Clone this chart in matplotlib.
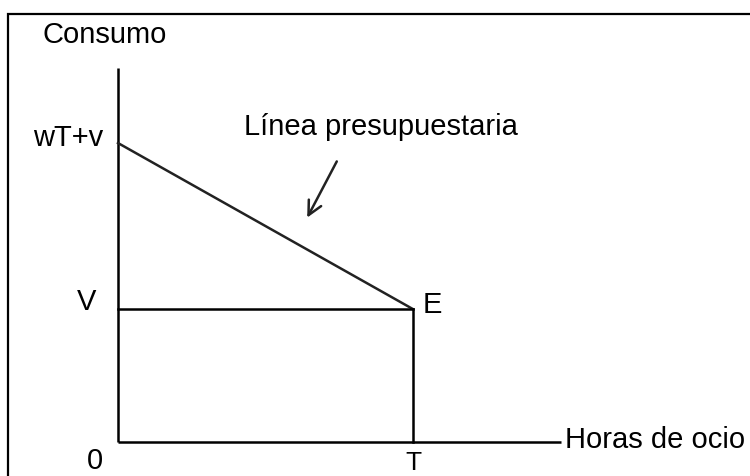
import matplotlib.pyplot as plt
from matplotlib.patches import Rectangle

plt.rcParams['font.family'] = ['Liberation Sans', 'DejaVu Sans']

# Valores del diagrama (unidades del modelo)
T = 10        # horas totales
V = 4         # renta no laboral
WT_V = 9      # wT + v
x_max = 15    # fin del eje horizontal
y_max = 11.25 # fin del eje vertical

# Etiquetas
labels_y = ['wT+v', 'V', '0']
label_x = 'T'

fig = plt.figure(figsize=(7.5, 4.76), dpi=100)
ax = fig.add_axes([0, 0, 1, 1])

# escala en pixeles por unidad
sx, sy = 29.5, 33.22
ox, oy = 118, 442
ax.set_xlim(-ox / sx, (750 - ox) / sx)
ax.set_ylim(-(476 - oy) / sy, oy / sy)
ax.axis('off')

lw = 1.8
# ejes
ax.plot([0, 0], [0, y_max], color='black', lw=lw, solid_capstyle='butt')
ax.plot([0, x_max], [0, 0], color='black', lw=lw, solid_capstyle='butt')
# linea presupuestaria y tramo horizontal
ax.plot([0, T], [WT_V, V], color='#222222', lw=lw)
ax.plot([0, T], [V, V], color='black', lw=lw)
ax.plot([T, T], [V, 0], color='black', lw=lw)

fs = 21
ax.text(-0.44, 12.25, 'Consumo', fontsize=fs, ha='center', va='center')
ax.text(-0.5, 9.15, labels_y[0], fontsize=fs, ha='right', va='center')
ax.text(-1.05, 4.2, labels_y[1], fontsize=fs, ha='center', va='center')
ax.text(-0.78, -0.56, labels_y[2], fontsize=fs, ha='center', va='center')
ax.text(T, -0.27, label_x, fontsize=fs - 2, ha='center', va='top')
ax.text(T + 0.64, V + 0.12, 'E', fontsize=fs, ha='center', va='center')
ax.text(x_max + 0.15, 0.06, 'Horas de ocio', fontsize=fs, ha='left', va='center')
ax.text(8.92, 9.48, 'Línea presupuestaria', fontsize=fs, ha='center', va='center')

ax.annotate('', xy=(6.37, 6.68), xytext=(7.46, 8.52),
            arrowprops=dict(arrowstyle='->,head_length=1.0,head_width=0.5',
                            color='#222222', lw=1.8))

# marco
fig.patches.append(Rectangle((8 / 750, -0.05), 1.0, (476 - 14) / 476 + 0.05,
                             transform=fig.transFigure, fill=False,
                             edgecolor='black', lw=1.6))

fig.savefig('out.png', dpi=100)
